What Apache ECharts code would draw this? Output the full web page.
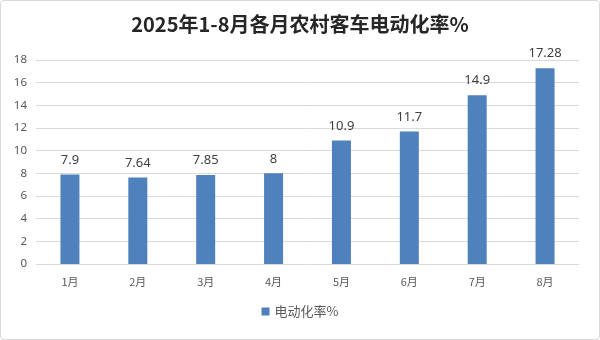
<!DOCTYPE html>
<html><head><meta charset="utf-8">
<script src="https://cdn.jsdelivr.net/npm/echarts@6/dist/echarts.min.js"></script>
<style>html,body{margin:0;padding:0;background:#fff}#c{width:600px;height:340px;box-sizing:border-box;border:1px solid #d9d9d9;border-radius:4px}</style>
</head><body><div id="c"></div>
<script>
const categories = ['1月','2月','3月','4月','5月','6月','7月','8月'];
const values = [7.9, 7.64, 7.85, 8, 10.9, 11.7, 14.9, 17.28];
const seriesName = '电动化率%';
const titleText = '2025年1-8月各月农村客车电动化率%';

const chart = echarts.init(document.getElementById('c'));
chart.setOption({
  animation: false,
  title: {text: titleText, left: 'center', top: 8,
    textStyle: {fontFamily: 'Noto Sans CJK SC', fontWeight: 'bold', fontSize: 20, color: '#262626'}},
  grid: {left: 35, right: 20, top: 59, bottom: 75, containLabel: false},
  legend: {bottom: 16, left: 'center', itemWidth: 8, itemHeight: 8, icon: 'rect', itemGap: 10,
    textStyle: {fontFamily: 'Noto Sans CJK SC', fontSize: 13, color: '#595959'}, data: [seriesName]},
  xAxis: {type: 'category', data: categories,
    axisLine: {lineStyle: {color: '#d9d9d9'}}, axisTick: {show: false},
    axisLabel: {color: '#595959', fontSize: 11, margin: 12, fontFamily: 'Noto Sans CJK SC'}},
  yAxis: {type: 'value', min: 0, max: 18, interval: 2,
    axisLine: {show: false}, axisTick: {show: false},
    splitLine: {lineStyle: {color: '#d9d9d9'}},
    axisLabel: {color: '#595959', fontSize: 11.5, margin: 9, fontFamily: 'Noto Sans'}},
  series: [{name: seriesName, type: 'bar', data: values, barWidth: 19,
    itemStyle: {color: '#4f81bd'},
    label: {show: true, position: 'top', distance: 8, color: '#404040', fontSize: 13, fontFamily: 'Noto Sans'}}]
});
</script></body></html>
